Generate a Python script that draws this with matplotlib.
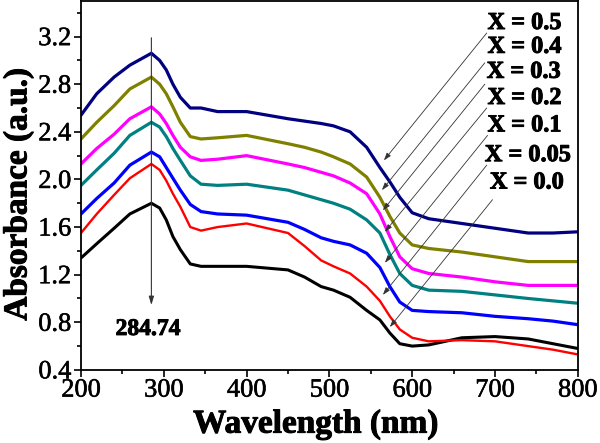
import matplotlib
matplotlib.use("Agg")
import matplotlib.pyplot as plt
import matplotlib.patheffects as pe
from matplotlib.ticker import MultipleLocator

plt.rcParams['font.family'] = ['Liberation Serif', 'DejaVu Serif']

wavelength = [200, 219, 240, 259, 285, 295, 303, 311, 320, 332, 345, 365, 400, 450, 470, 490,
              505, 525, 545, 561, 573, 585, 600, 620, 660, 700, 740, 770, 800]

abs_x050 = [2.54, 2.72, 2.86, 2.96, 3.06, 3.00, 2.92, 2.80, 2.69, 2.60, 2.60, 2.57, 2.57, 2.51,
            2.49, 2.47, 2.45, 2.40, 2.27, 2.10, 1.98, 1.85, 1.72, 1.67, 1.63, 1.59, 1.55, 1.55, 1.56]
abs_x040 = [2.34, 2.48, 2.62, 2.76, 2.86, 2.80, 2.72, 2.61, 2.48, 2.36, 2.34, 2.35, 2.37, 2.30,
            2.27, 2.23, 2.19, 2.13, 2.02, 1.85, 1.69, 1.55, 1.45, 1.42, 1.39, 1.35, 1.31, 1.31, 1.31]
abs_x030 = [2.13, 2.26, 2.38, 2.51, 2.61, 2.55, 2.47, 2.37, 2.27, 2.19, 2.16, 2.17, 2.20, 2.13,
            2.10, 2.06, 2.03, 1.97, 1.88, 1.71, 1.52, 1.35, 1.25, 1.21, 1.18, 1.14, 1.11, 1.11, 1.11]
abs_x020 = [1.95, 2.08, 2.22, 2.37, 2.48, 2.44, 2.36, 2.26, 2.16, 2.03, 1.96, 1.95, 1.96, 1.91,
            1.87, 1.83, 1.80, 1.75, 1.66, 1.55, 1.37, 1.21, 1.11, 1.07, 1.06, 1.03, 1.00, 0.98, 0.96]
abs_x010 = [1.71, 1.84, 1.97, 2.12, 2.23, 2.19, 2.10, 2.01, 1.91, 1.79, 1.73, 1.71, 1.70, 1.64,
            1.58, 1.51, 1.48, 1.45, 1.38, 1.26, 1.10, 0.97, 0.90, 0.89, 0.88, 0.85, 0.83, 0.81, 0.78]
abs_x005 = [1.55, 1.71, 1.87, 2.01, 2.13, 2.08, 1.99, 1.88, 1.77, 1.60, 1.57, 1.60, 1.63, 1.55,
            1.44, 1.32, 1.27, 1.21, 1.10, 0.98, 0.85, 0.74, 0.67, 0.64, 0.65, 0.64, 0.60, 0.57, 0.53]
abs_x000 = [1.34, 1.46, 1.59, 1.71, 1.80, 1.76, 1.66, 1.52, 1.41, 1.29, 1.27, 1.27, 1.27, 1.24,
            1.18, 1.10, 1.07, 1.01, 0.90, 0.82, 0.71, 0.62, 0.60, 0.61, 0.67, 0.68, 0.66, 0.62, 0.58]

labels = ['X = 0.0', 'X = 0.05', 'X = 0.1', 'X = 0.2', 'X = 0.3', 'X = 0.4', 'X = 0.5']
series = [abs_x000, abs_x005, abs_x010, abs_x020, abs_x030, abs_x040, abs_x050]
colors = ['#000000', '#ff0000', '#0000ff', '#008080', '#ff00ff', '#808000', '#000080']
widths = [2.2, 1.7, 2.3, 2.3, 2.3, 2.3, 2.3]

# annotation anchors (data coords)
arrow_tip_x = [573, 564.6, 567, 567, 564.6, 563.4, 565.8]
arrow_tip_y = [0.76, 1.03, 1.30, 1.56, 1.74, 1.91, 2.16]
leader_x = [697, 690, 691, 690, 687.7, 687.7, 690]
leader_y = [1.83, 2.12, 2.37, 2.60, 2.80, 2.98, 3.23]
label_x = [693.8, 687.7, 691, 691, 690, 691, 691]
label_y = [1.97, 2.20, 2.45, 2.68, 2.90, 3.11, 3.31]

peak_wl = 285
peak_label = '284.74'

heavy = [pe.withStroke(linewidth=0.7, foreground='black')]

fig = plt.figure(figsize=(6, 4.43), dpi=100)
ax = fig.add_axes([0.135, 0.165, 0.828, 0.833])

for y, c, lw in zip(series, colors, widths):
    ax.plot(wavelength, y, color=c, lw=lw, solid_joinstyle='round', solid_capstyle='round')

for i in range(len(labels)):
    ax.annotate('', xy=(arrow_tip_x[i], arrow_tip_y[i]), xytext=(leader_x[i], leader_y[i]),
                arrowprops=dict(arrowstyle='-|>,head_length=0.45,head_width=0.15',
                                color='#333333', lw=0.6, shrinkA=0, shrinkB=0))
    ax.text(label_x[i], label_y[i], labels[i], fontsize=17.5, fontweight='bold',
            ha='left', va='center', path_effects=heavy)

ax.annotate('', xy=(peak_wl, 0.945), xytext=(peak_wl, 3.19),
            arrowprops=dict(arrowstyle='-|>,head_length=0.5,head_width=0.15',
                            color='#333333', lw=0.8, shrinkA=0, shrinkB=0))
ax.text(281, 0.74, peak_label, fontsize=17, fontweight='bold', ha='center', va='center',
        path_effects=heavy)

ax.set_xlim(200, 800)
ax.set_ylim(0.4, 3.5)
ax.xaxis.set_major_locator(MultipleLocator(100))
ax.xaxis.set_minor_locator(MultipleLocator(50))
ax.yaxis.set_minor_locator(MultipleLocator(0.2))
ax.set_yticks([0.4, 0.8, 1.2, 1.6, 2.0, 2.4, 2.8, 3.2])
ax.set_yticklabels(['0.4', '0.8', '1.2', '1.6', '2.0', '2.4', '2.8', '3.2'])
ax.tick_params(which='both', direction='out', top=False, right=False, labelsize=19, width=1.2)
ax.tick_params(which='major', length=5, pad=2)
ax.tick_params(which='minor', length=3)
for lab in ax.get_xticklabels() + ax.get_yticklabels():
    lab.set_path_effects([pe.withStroke(linewidth=0.4, foreground='black')])
for sp in ax.spines.values():
    sp.set_linewidth(1.3)

ax.set_xlabel('Wavelength (nm)', fontsize=24, fontweight='bold', path_effects=heavy)
ax.xaxis.set_label_coords(0.473, -0.105)
fig.text(0.004, 0.562, 'Absorbance (a.u.)', rotation=90, fontsize=24, fontweight='bold',
         ha='left', va='center', path_effects=heavy)

fig.savefig('out.png', dpi=100)
